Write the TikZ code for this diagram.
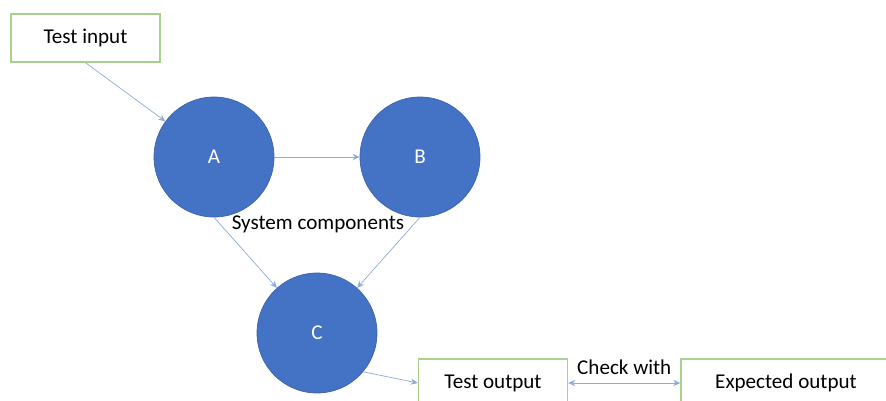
\documentclass[tikz,border=0pt]{standalone}
\usepackage{fontspec}
\setmainfont{Carlito}
\usepackage{tikz}
\usetikzlibrary{arrows.meta, positioning}
\definecolor{compblue}{HTML}{4472C4}
\definecolor{compedge}{HTML}{3A62AA}
\definecolor{boxgreen}{HTML}{A9D18E}
\definecolor{linkblue}{HTML}{8FAADC}
\tikzstyle{component} = [circle, fill=compblue, draw=compedge, minimum size=2.4cm, text=white, font=\large]
\tikzstyle{datum} = [rectangle, draw=boxgreen, thick, fill=white, minimum width=2.98cm, minimum height=0.96cm, font=\large]
\tikzstyle{link} = [draw=linkblue, -{Stealth[length=4pt,width=3.5pt]}]
\tikzstyle{twoway} = [draw=linkblue, {Stealth[length=4pt,width=3.5pt]}-{Stealth[length=4pt,width=3.5pt]}]

\begin{document}
\begin{tikzpicture}[x=0.02cm, y=-0.02cm]
	\clip (0, 0) rectangle (886, 400);
	\fill[white] (0, 0) rectangle (886, 400);

	\node (In) [datum] at (85.5, 38) {Test input};

	% components
	\node (A) [component] at (214, 157) {A};
	\node (B) [component] at (420, 157) {B};
	\node (C) [component] at (317, 333) {C};
	\node (Sys) at (318, 224) {\large System components};

	\draw[link] (In.south) -- (A);
	\draw[link] (A) -- (B);
	\draw[link] (A.south) -- (C);
	\draw[link] (B.south) -- (C);

	% outputs
	\node (Out) [datum] at (493, 383) {Test output};
	\node (Exp) [datum, minimum width=4.2cm] at (786, 383) {Expected output};
	\draw[link] (C.-40) -- (Out.west);
	\draw[twoway] (Out.east) -- (Exp.west)
		node[midway, above=1pt, black, font=\large] {Check with};
\end{tikzpicture}
\end{document}
